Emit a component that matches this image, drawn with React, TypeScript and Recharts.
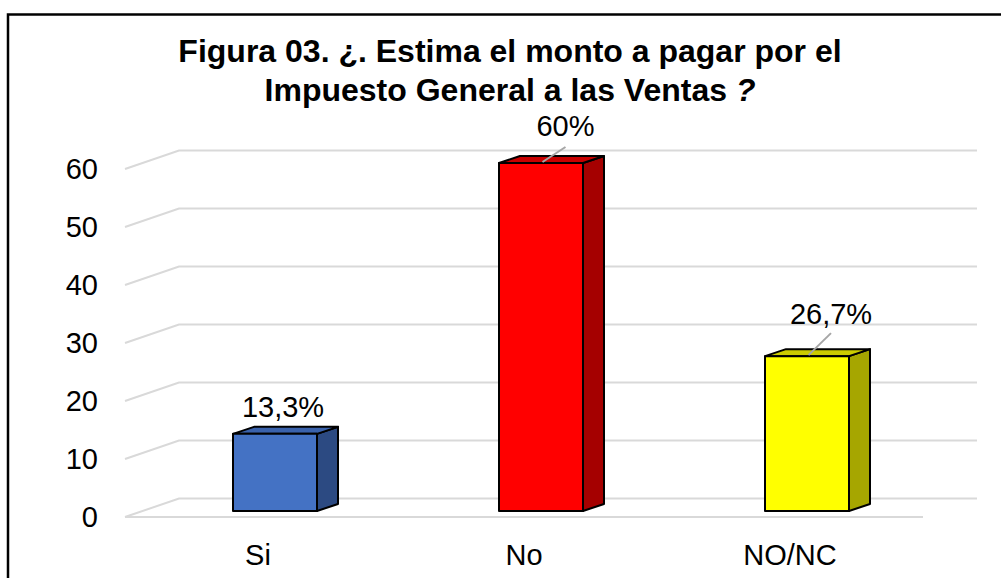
import { Bar, BarChart, CartesianGrid, Cell, LabelList, XAxis, YAxis } from 'recharts'

const categories = ['Si', 'No', 'NO/NC']
const values = [13.3, 60, 26.7]
const yTicks = [0, 10, 20, 30, 40, 50, 60]

const frontColors = ['#4472C4', '#FF0000', '#FFFF00']
const topColors = ['#3A62AC', '#C80000', '#CCCC00']
const sideColors = ['#2C4A82', '#A50000', '#A6A600']

// where each data label sits, relative to the bar's top-front centre
const labelOffsets = [
  { dx: 8, dy: -17, leader: 0 },
  { dx: 24.5, dy: -27, leader: -16 },
  { dx: 24, dy: -32, leader: -23 },
]

const W = 1001
const H = 578
const FONT = '"Liberation Sans", Arial, sans-serif'
const GRID = '#D9D9D9'

// 3D projection offsets
const WALL = { dx: 54, dy: -18.5 }
const BAR_POS = { dx: 17, dy: -6 }
const BAR_DEPTH = { dx: 21, dy: -7 }

const data = categories.map((name, i) => ({ name, value: values[i] }))

const fmt = (v: number) => `${String(v).replace('.', ',')}%`

// eslint-disable-next-line @typescript-eslint/no-explicit-any
function GridLine(props: any) {
  const { x1, y1, x2, index } = props
  const bx = x1 + WALL.dx
  const by = y1 + WALL.dy
  return (
    <polyline
      key={`grid-${index}`}
      points={`${x1},${y1} ${bx},${by} ${x2 + WALL.dx},${by}`}
      fill="none"
      stroke={GRID}
      strokeWidth={2}
    />
  )
}

// eslint-disable-next-line @typescript-eslint/no-explicit-any
function Box3D(props: any) {
  const { x, y, width, height, index } = props
  const X = x + BAR_POS.dx
  const Y = y + BAR_POS.dy
  const { dx, dy } = BAR_DEPTH
  const top = `${X},${Y} ${X + dx},${Y + dy} ${X + width + dx},${Y + dy} ${X + width},${Y}`
  const side = `${X + width},${Y} ${X + width + dx},${Y + dy} ${X + width + dx},${Y + height + dy} ${X + width},${Y + height}`
  return (
    <g stroke="#000" strokeWidth={2} strokeLinejoin="round">
      <polygon points={side} fill={sideColors[index]} />
      <polygon points={top} fill={topColors[index]} />
      <rect x={X} y={Y} width={width} height={height} fill={frontColors[index]} />
    </g>
  )
}

// eslint-disable-next-line @typescript-eslint/no-explicit-any
function BarLabel(props: any) {
  const { x, y, width, value, index } = props
  const o = labelOffsets[index]
  const cx = x + width / 2 + BAR_POS.dx
  const top = y + BAR_POS.dy
  return (
    <g>
      {o.leader !== 0 && (
        <line
          x1={cx + 1.5}
          y1={top - 1}
          x2={cx + o.dx}
          y2={top + o.leader}
          stroke="#A6A6A6"
          strokeWidth={2}
        />
      )}
      <text
        x={cx + o.dx}
        y={top + o.dy}
        textAnchor="middle"
        fontFamily={FONT}
        fontSize={29}
        fill="#000"
      >
        {fmt(value)}
      </text>
    </g>
  )
}

// eslint-disable-next-line @typescript-eslint/no-explicit-any
function YTick(props: any) {
  const { x, y, payload } = props
  return (
    <text x={x} y={y} dy={10} textAnchor="end" fontFamily={FONT} fontSize={29} fill="#000">
      {payload.value}
    </text>
  )
}

// eslint-disable-next-line @typescript-eslint/no-explicit-any
function XTick(props: any) {
  const { x, y, payload } = props
  return (
    <text x={x} y={y} dy={48} textAnchor="middle" fontFamily={FONT} fontSize={29} fill="#000">
      {payload.value}
    </text>
  )
}

export default function App() {
  return (
    <div
      style={{
        position: 'absolute',
        left: 0,
        top: 0,
        width: W,
        height: H,
        overflow: 'hidden',
        background: '#fff',
      }}
    >
      <svg width={W} height={H} style={{ position: 'absolute', left: 0, top: 0 }}>
        <rect x={8} y={14.5} width={1200} height={800} fill="#fff" stroke="#000" strokeWidth={2.5} />
        <text
          x={510}
          textAnchor="middle"
          fontFamily={FONT}
          fontWeight="bold"
          fontSize={32}
          fill="#000"
        >
          <tspan x={510} y={62}>
            Figura 03. ¿. Estima el monto a pagar por el
          </tspan>
          <tspan x={510} y={101}>
            Impuesto General a las Ventas <tspan fontStyle="italic">?</tspan>
          </tspan>
        </text>
      </svg>
      <div style={{ position: 'absolute', left: 0, top: 0 }}>
        <BarChart
          width={W}
          height={H}
          data={data}
          margin={{ top: 169, right: 78, bottom: 31, left: 8 }}
        >
          <CartesianGrid horizontal={GridLine} vertical={false} />
          <XAxis
            dataKey="name"
            height={30}
            axisLine={{ stroke: GRID, strokeWidth: 2 }}
            tickLine={false}
            tickSize={0}
            tickMargin={0}
            tick={XTick}
          />
          <YAxis
            width={117}
            domain={[0, 60]}
            ticks={yTicks}
            axisLine={false}
            tickLine={false}
            tickSize={0}
            tickMargin={27}
            tick={YTick}
          />
          <Bar dataKey="value" barSize={84} shape={Box3D} isAnimationActive={false}>
            {data.map((d, i) => (
              <Cell key={d.name} fill={frontColors[i]} />
            ))}
            <LabelList dataKey="value" content={BarLabel} />
          </Bar>
        </BarChart>
      </div>
    </div>
  )
}
